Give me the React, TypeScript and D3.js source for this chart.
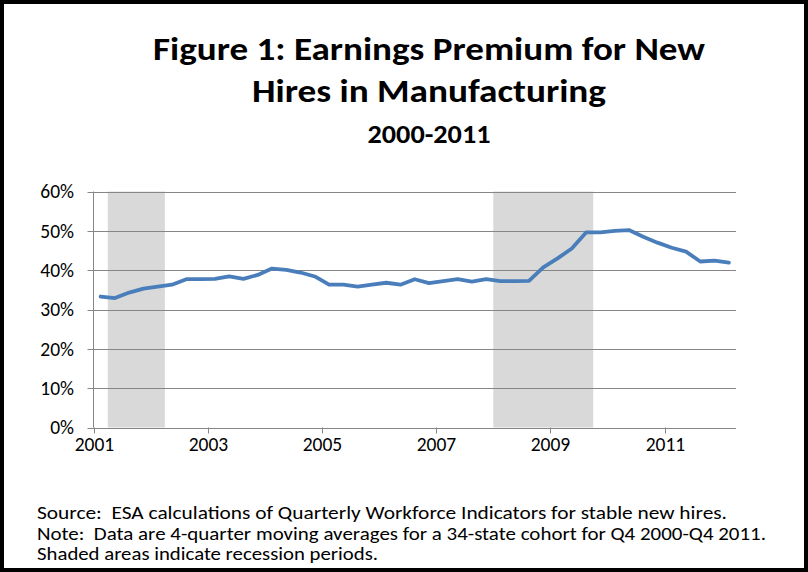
import React, {useMemo} from 'react';
import * as d3 from 'd3';

// quarterly categories, Q4 2000 .. Q4 2011
const quarters = [
  'Q4 2000',
  'Q1 2001', 'Q2 2001', 'Q3 2001', 'Q4 2001',
  'Q1 2002', 'Q2 2002', 'Q3 2002', 'Q4 2002',
  'Q1 2003', 'Q2 2003', 'Q3 2003', 'Q4 2003',
  'Q1 2004', 'Q2 2004', 'Q3 2004', 'Q4 2004',
  'Q1 2005', 'Q2 2005', 'Q3 2005', 'Q4 2005',
  'Q1 2006', 'Q2 2006', 'Q3 2006', 'Q4 2006',
  'Q1 2007', 'Q2 2007', 'Q3 2007', 'Q4 2007',
  'Q1 2008', 'Q2 2008', 'Q3 2008', 'Q4 2008',
  'Q1 2009', 'Q2 2009', 'Q3 2009', 'Q4 2009',
  'Q1 2010', 'Q2 2010', 'Q3 2010', 'Q4 2010',
  'Q1 2011', 'Q2 2011', 'Q3 2011', 'Q4 2011',
];

// earnings premium, 4-quarter moving average (%)
const premium = [
  33.3, 32.9, 34.3, 35.3, 35.8, 36.3, 37.7, 37.7, 37.8, 38.4,
  37.8, 38.8, 40.4, 40.1, 39.4, 38.4, 36.3, 36.3, 35.8, 36.3,
  36.8, 36.3, 37.7, 36.7, 37.2, 37.7, 37.1, 37.7, 37.2, 37.2,
  37.3, 40.7, 43.0, 45.5, 49.6, 49.6, 50.0, 50.2, 48.5, 47.0,
  45.7, 44.7, 42.2, 42.4, 41.9,
];

const recessionStarts = ['Q1 2001', 'Q4 2007'];
const recessionEnds = ['Q4 2001', 'Q2 2009'];

const xTickQuarters = ['Q4 2000', 'Q4 2002', 'Q4 2004', 'Q4 2006', 'Q4 2008', 'Q4 2010'];
const xTickLabels = ['2001', '2003', '2005', '2007', '2009', '2011'];
const yTicks = [0, 10, 20, 30, 40, 50, 60];

const titleLines = ['Figure 1: Earnings Premium for New', 'Hires in Manufacturing'];
const subtitle = '2000-2011';
const notes = [
  'Source:  ESA calculations of Quarterly Workforce Indicators for stable new hires.',
  'Note:  Data are 4-quarter moving averages for a 34-state cohort for Q4 2000-Q4 2011.',
  'Shaded areas indicate recession periods.',
];
const noteWidths = [690, 729, 341];

const W = 808;
const H = 572;
const font = 'Calibri, Carlito, Lato, "Open Sans", sans-serif';

export default function App() {
  const plot = {left: 93.5, right: 736, top: 191.5, bottom: 427.5};

  const x = useMemo(() => d3.scaleBand<string>()
      .domain(quarters)
      .range([plot.left, plot.right])
      .paddingInner(0).paddingOuter(0), []);

  const y = useMemo(() => d3.scaleLinear()
      .domain([0, 60])
      .range([plot.bottom, plot.top]), []);

  const line = d3.line<number>()
      .x((_, i) => (x(quarters[i]) as number) + x.bandwidth() / 2)
      .y(d => y(d));

  const grid = '#868686';

  return (
      <svg width={W} height={H} style={{position: 'absolute', left: 0, top: 0}}
           fontFamily={font}>
        <rect x={0} y={0} width={W} height={H} fill="#000"/>
        <rect x={4} y={4} width={800} height={564} fill="#fff"/>

        {/* title */}
        <text x={429} y={60} textAnchor="middle" fontSize={33} fontWeight="bold"
              textLength={552} lengthAdjust="spacingAndGlyphs">{titleLines[0]}</text>
        <text x={429} y={102} textAnchor="middle" fontSize={33} fontWeight="bold"
              textLength={354} lengthAdjust="spacingAndGlyphs">{titleLines[1]}</text>
        <text x={429} y={143} textAnchor="middle" fontSize={26} fontWeight="bold"
              textLength={123} lengthAdjust="spacingAndGlyphs">{subtitle}</text>

        {/* recession shading */}
        {recessionStarts.map((s, i) => {
          const x0 = x(s) as number;
          const x1 = (x(recessionEnds[i]) as number) + x.bandwidth();
          return <rect key={s} x={x0} y={plot.top} width={x1 - x0}
                       height={plot.bottom - plot.top} fill="#d9d9d9"/>;
        })}

        {/* gridlines and y axis */}
        {yTicks.map(t => (
            <g key={t}>
              <line x1={plot.left - 6} x2={plot.right} y1={Math.round(y(t)) + 0.5}
                    y2={Math.round(y(t)) + 0.5} stroke={grid} strokeWidth={1}/>
              <text x={74} y={y(t)} dy="0.35em" textAnchor="end" fontSize={19.5}
                    fill="#000">{`${t}%`}</text>
            </g>
        ))}
        <line x1={plot.left} x2={plot.left} y1={plot.top} y2={plot.bottom}
              stroke={grid} strokeWidth={1}/>

        {/* x ticks */}
        {xTickQuarters.map((q, i) => {
          const xp = Math.round(x(q) as number) + 0.5;
          return (
              <g key={q}>
                <line x1={xp} x2={xp} y1={plot.bottom} y2={plot.bottom + 6}
                      stroke={grid} strokeWidth={1}/>
                <text x={xp} y={450.5} textAnchor="middle" fontSize={19.5}
                      fill="#000">{xTickLabels[i]}</text>
              </g>
          );
        })}

        <path d={line(premium) ?? ''} fill="none" stroke="#4a7ebb" strokeWidth={3.8}
              strokeLinejoin="round" strokeLinecap="round"/>

        {/* notes */}
        {notes.map((n, i) => (
            <text key={i} x={37} y={519 + i * 20.5} fontSize={17.5} xmlSpace="preserve"
                  style={{whiteSpace: 'pre'}} textLength={noteWidths[i]}
                  lengthAdjust="spacingAndGlyphs">{n}</text>
        ))}
      </svg>
  );
}
